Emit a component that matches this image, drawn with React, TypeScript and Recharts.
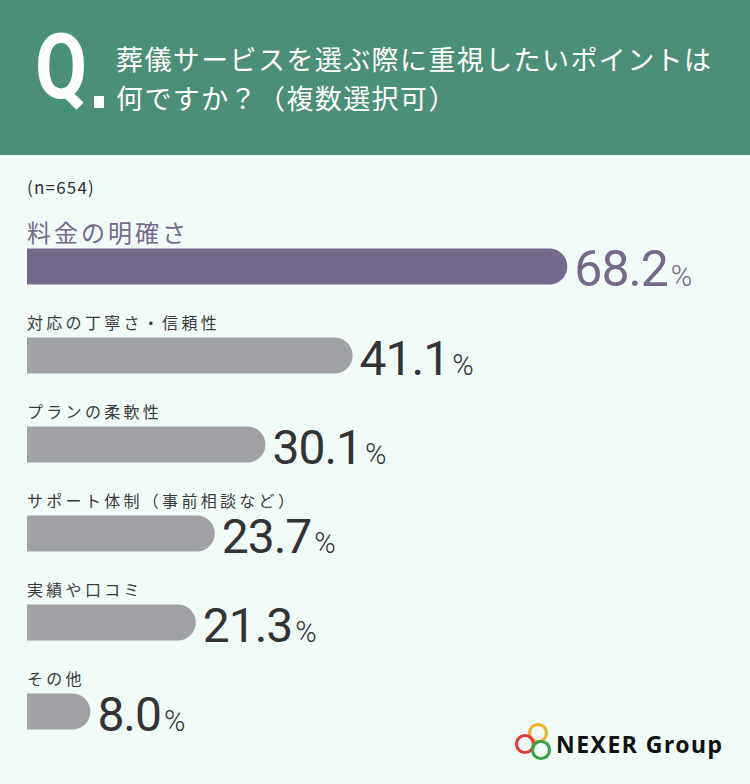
import React from "react";
import { BarChart, Bar, XAxis, YAxis, LabelList, Cell } from "recharts";

const categories = [
  "料金の明確さ",
  "対応の丁寧さ・信頼性",
  "プランの柔軟性",
  "サポート体制（事前相談など）",
  "実績や口コミ",
  "その他",
];
const values = [68.2, 41.1, 30.1, 23.7, 21.3, 8.0];
const valueLabels = ["68.2", "41.1", "30.1", "23.7", "21.3", "8.0"];
const barColors = ["#766a8a", "#a0a1a5", "#a0a1a5", "#a0a1a5", "#a0a1a5", "#a0a1a5"];
const titleLines = ["葬儀サービスを選ぶ際に重視したいポイントは", "何ですか？（複数選択可）"];
const sampleNote = "(n=654)";

const data = categories.map((name, i) => ({ name, value: values[i], label: valueLabels[i] }));

const JP = "'Noto Sans CJK JP', 'Noto Sans', sans-serif";
const NUM = "'Roboto', 'Noto Sans', sans-serif";

const CategoryLabel = (props: any) => {
  const { x, y, index } = props;
  const first = index === 0;
  return (
    <text
      x={x}
      y={y - (first ? 7 : 9)}
      fontFamily={JP}
      fontSize={first ? 24 : 16}
      letterSpacing={first ? 3 : 3.3}
      fill={first ? "#766a8a" : "#3a3a3a"}
    >
      {categories[index]}
    </text>
  );
};

const ValueLabel = (props: any) => {
  const { x, y, width, height, index } = props;
  const first = index === 0;
  const color = first ? "#766a8a" : "#333333";
  return (
    <text x={x + width + 7} y={y + height + 1} fontFamily={NUM} fill={color}>
      <tspan fontSize={first ? 50 : 48} fontWeight={400} letterSpacing={-1}>
        {valueLabels[index]}
      </tspan>
      <tspan fontSize={29} dx={3} fontWeight={300}>%</tspan>
    </text>
  );
};

export default function App() {
  return (
    <div
      style={{
        position: "relative",
        width: 750,
        height: 784,
        background: "#f1fbf8",
        overflow: "hidden",
      }}
    >
      <style>{"body{margin:0}"}</style>
      <div
        style={{
          position: "absolute",
          left: 0,
          top: 0,
          width: 750,
          height: 155,
          background: "#4a8f78",
        }}
      >
        <div
          style={{
            position: "absolute",
            left: 35,
            top: 18,
            fontFamily: "'Roboto', 'Noto Sans', sans-serif",
            fontWeight: 700,
            fontSize: 90,
            color: "#ffffff",
            lineHeight: "100px",
            transform: "scaleX(0.84)",
            transformOrigin: "left",
          }}
        >
          Q
        </div>
        <div
          style={{
            position: "absolute",
            left: 94,
            top: 96,
            width: 10,
            height: 12,
            background: "#ffffff",
          }}
        />
        {titleLines.map((t, i) => (
          <div
            key={i}
            style={{
              position: "absolute",
              left: 116,
              top: 40 + i * 39,
              fontFamily: JP,
              fontSize: 27,
              letterSpacing: 1.4,
              color: "#ffffff",
              lineHeight: "38px",
              whiteSpace: "nowrap",
            }}
          >
            {t}
          </div>
        ))}
      </div>
      <div
        style={{
          position: "absolute",
          left: 27,
          top: 176,
          fontFamily: JP,
          fontSize: 17,
          letterSpacing: 1.2,
          color: "#333333",
          lineHeight: "22px",
        }}
      >
        {sampleNote}
      </div>
      <div style={{ position: "absolute", left: 0, top: 0 }}>
        <BarChart
          width={750}
          height={784}
          data={data}
          layout="vertical"
          margin={{ top: 221.5, bottom: 28.5, left: 27, right: 10 }}
          barCategoryGap={0}
        >
          <XAxis type="number" domain={[0, 90]} hide />
          <YAxis type="category" dataKey="name" hide />
          <Bar dataKey="value" barSize={36} radius={[0, 18, 18, 0]} isAnimationActive={false}>
            {data.map((d, i) => (
              <Cell key={d.name} fill={barColors[i]} />
            ))}
            <LabelList dataKey="name" content={CategoryLabel} />
            <LabelList dataKey="label" content={ValueLabel} />
          </Bar>
        </BarChart>
      </div>
      <svg
        width={750}
        height={784}
        style={{ position: "absolute", left: 0, top: 0, pointerEvents: "none" }}
      >
        <circle cx={538} cy={733} r={8.5} fill="none" stroke="#e9b42a" strokeWidth={3.2} />
        <circle cx={525} cy={744} r={8.5} fill="none" stroke="#d9443a" strokeWidth={3.2} />
        <circle cx={541} cy={750} r={8.5} fill="none" stroke="#3aa04a" strokeWidth={3.2} />
        <text
          x={556}
          y={753}
          fontFamily="'Noto Sans', sans-serif"
          fontWeight={700}
          fontSize={23}
          fill="#111111"
          textLength={166}
        >
          NEXER Group
        </text>
      </svg>
    </div>
  );
}
